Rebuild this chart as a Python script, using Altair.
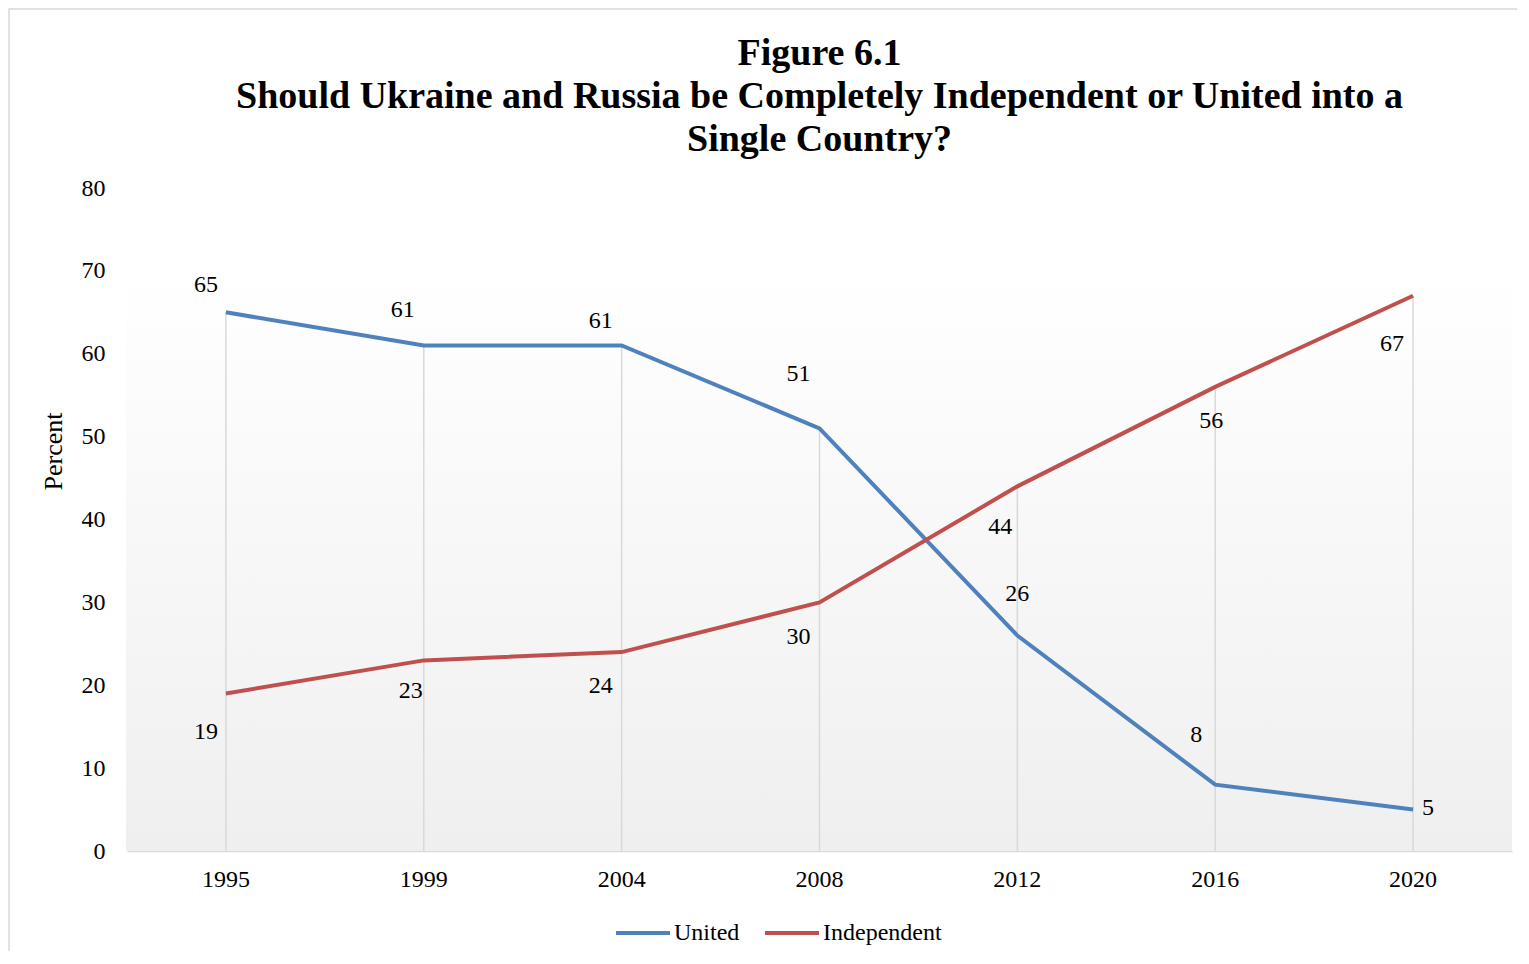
import altair as alt
import pandas as pd

years = ["1995", "1999", "2004", "2008", "2012", "2016", "2020"]
united = [65, 61, 61, 51, 26, 8, 5]
independent = [19, 23, 24, 30, 44, 56, 67]
series_names = ["United", "Independent"]
series_colors = ["#4F81BD", "#C0504D"]
y_ticks = [0, 10, 20, 30, 40, 50, 60, 70, 80]
title_lines = ["Figure 6.1",
               "Should Ukraine and Russia be Completely Independent or United into a",
               "Single Country?"]

rows = []
for i, y in enumerate(years):
    rows.append({"year": y, "series": "United", "value": united[i]})
    rows.append({"year": y, "series": "Independent", "value": independent[i]})
df = pd.DataFrame(rows)
drop = pd.DataFrame({"year": years, "value": [max(a, b) for a, b in zip(united, independent)]})

# label offsets (styling): (dx, dy) per series, per year
LABEL_STYLE = {
    "United": [(-20, -27), (-21, -35), (-21, -24), (-21, -54), (0, -42), (-19, -50), (15, -2)],
    "Independent": [(-20, 38), (-13, 31), (-21, 34), (-21, 35), (-17, 41), (-4, 34), (-21, 48)],
}

W, H = 1385, 663
FONT = "Liberation Serif"

xenc = alt.X("year:N", sort=years, title=None)
yenc = alt.Y("value:Q", scale=alt.Scale(domain=[0, 80], nice=False), title="Percent",
             axis=alt.Axis(values=y_ticks, labelOverlap=False))

one = pd.DataFrame({"a": [0]})

border = alt.Chart(one).mark_rect(fill="transparent", stroke="#d9d9d9", strokeWidth=1.5).encode(
    x=alt.value(-118), x2=alt.value(W + 300), y=alt.value(-179), y2=alt.value(H + 400))

bg = alt.Chart(one).mark_rect(
    color=alt.Gradient(gradient="linear",
                       stops=[alt.GradientStop(color="#ffffff", offset=0),
                              alt.GradientStop(color="#efefef", offset=1)],
                       x1=0, x2=0, y1=0, y2=1)
).encode(x=alt.value(-1), x2=alt.value(W), y=alt.value(85), y2=alt.value(H))

rules = alt.Chart(drop).mark_rule(color="#d9d9d9", strokeWidth=1.5).encode(
    x=xenc, y=yenc, y2=alt.datum(0))

lines = alt.Chart(df).mark_line(strokeWidth=4).encode(
    x=xenc, y=yenc,
    color=alt.Color("series:N", scale=alt.Scale(domain=series_names, range=series_colors),
                    legend=alt.Legend(title=None, orient="none", legendX=487, legendY=716,
                                      direction="horizontal", symbolType="stroke",
                                      symbolSize=2916, symbolStrokeWidth=4,
                                      labelFont=FONT, labelFontSize=24, labelColor="black",
                                      labelOffset=2, columnPadding=17)),
    order=alt.Order("year:N"))

text_layers = []
for s in series_names:
    for i, y in enumerate(years):
        dx, dy = LABEL_STYLE[s][i]
        t = alt.Chart(df).transform_filter(
            (alt.datum.series == s) & (alt.datum.year == y)
        ).mark_text(dx=dx, dy=dy, font=FONT, fontSize=24, color="black",
                    align="center", baseline="middle").encode(
            x=xenc, y=yenc, text=alt.Text("value:Q"))
        text_layers.append(t)

chart = alt.layer(border, bg, rules, lines, *text_layers).properties(
    width=W, height=H,
    title=alt.TitleParams(text=title_lines, font=FONT, fontSize=38, fontWeight="bold",
                          color="black", anchor="middle", frame="group", lineHeight=43,
                          offset=-151),
    autosize=alt.AutoSizeParams(type="none"),
    padding={"left": 119, "top": 180, "right": 5, "bottom": 100},
).configure_view(stroke=None).configure_axisX(
    labelAngle=0, labelAlign="center", labelBaseline="top",
    ticks=False, grid=False, domainColor="#d9d9d9",
    domainWidth=1.5, labelPadding=16, labelFontSize=24,
    labelFont=FONT, labelColor="black"
).configure_axisY(
    grid=False, domain=False, ticks=False,
    labelPadding=22, labelFontSize=24, labelFont=FONT, labelColor="black",
    titleFont=FONT, titleFontSize=26, titleFontWeight="normal",
    titleColor="black", titleX=-74, titleY=263, titleAngle=270,
    titleAlign="center", titleBaseline="middle"
)

chart.save("out.html", embed_options={"renderer": "svg", "actions": False})
